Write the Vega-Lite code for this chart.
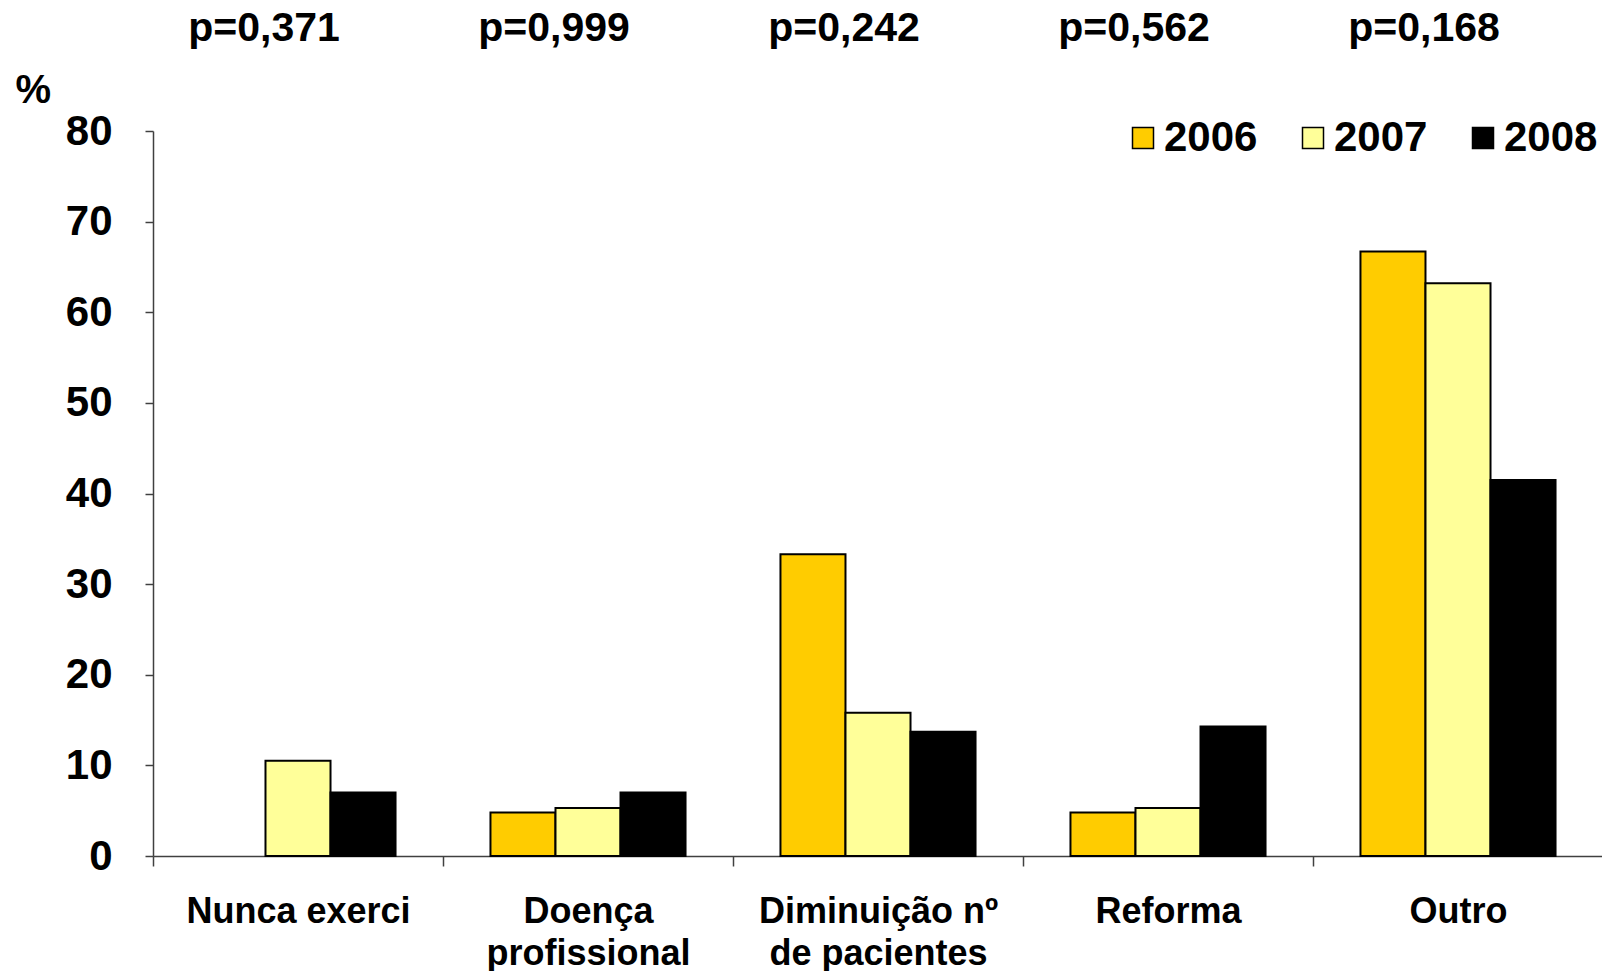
{
  "$schema": "https://vega.github.io/schema/vega-lite/v6.json",
  "autosize": "none",
  "width": 1450,
  "height": 725,
  "padding": {"left": 153, "top": 131, "right": 0, "bottom": 115},
  "background": "white",
  "config": {
    "view": {"stroke": null},
    "font": "Liberation Sans"
  },
  "datasets": {
    "bars": [
      {"motivo": "Nunca exerci", "ano": "2006", "pct": 0},
      {"motivo": "Nunca exerci", "ano": "2007", "pct": 10.5},
      {"motivo": "Nunca exerci", "ano": "2008", "pct": 7.0},
      {"motivo": "Doença profissional", "ano": "2006", "pct": 4.8},
      {"motivo": "Doença profissional", "ano": "2007", "pct": 5.3},
      {"motivo": "Doença profissional", "ano": "2008", "pct": 7.0},
      {"motivo": "Diminuição nº de pacientes", "ano": "2006", "pct": 33.3},
      {"motivo": "Diminuição nº de pacientes", "ano": "2007", "pct": 15.8},
      {"motivo": "Diminuição nº de pacientes", "ano": "2008", "pct": 13.7},
      {"motivo": "Reforma", "ano": "2006", "pct": 4.8},
      {"motivo": "Reforma", "ano": "2007", "pct": 5.3},
      {"motivo": "Reforma", "ano": "2008", "pct": 14.3},
      {"motivo": "Outro", "ano": "2006", "pct": 66.7},
      {"motivo": "Outro", "ano": "2007", "pct": 63.2},
      {"motivo": "Outro", "ano": "2008", "pct": 41.5}
    ],
    "pvals": [
      {"motivo": "Nunca exerci", "p": "p=0,371"},
      {"motivo": "Doença profissional", "p": "p=0,999"},
      {"motivo": "Diminuição nº de pacientes", "p": "p=0,242"},
      {"motivo": "Reforma", "p": "p=0,562"},
      {"motivo": "Outro", "p": "p=0,168"}
    ]
  },
  "layer": [
    {
      "data": {"name": "bars"},
      "mark": {"type": "bar", "stroke": "black", "strokeWidth": 2},
      "encoding": {
        "x": {
          "field": "motivo",
          "type": "nominal",
          "sort": ["Nunca exerci", "Doença profissional", "Diminuição nº de pacientes", "Reforma", "Outro"],
          "scale": {"paddingInner": 0, "paddingOuter": 0},
          "axis": {
            "title": null,
            "labelAngle": 0,
            "labelFontSize": 36,
            "labelFontWeight": "bold",
            "labelColor": "black",
            "labelLineHeight": 42,
            "labelBaseline": "top",
            "labelPadding": 28,
            "labelLimit": 0,
            "tickBand": "extent",
            "tickSize": 10,
            "tickColor": "#404040",
            "tickWidth": 1.5,
            "domainColor": "#404040",
            "domainWidth": 1.5,
            "labelExpr": "datum.value == 'Doença profissional' ? ['Doença', 'profissional'] : datum.value == 'Diminuição nº de pacientes' ? ['Diminuição nº', 'de pacientes'] : datum.value"
          }
        },
        "xOffset": {"field": "ano", "type": "nominal", "scale": {"paddingInner": 0, "paddingOuter": 0.73}},
        "y": {
          "field": "pct",
          "type": "quantitative",
          "scale": {"domain": [0, 80]},
          "axis": {
            "title": "%",
            "titleAngle": 0,
            "titleAlign": "left",
            "titleBaseline": "middle",
            "titleX": -138,
            "titleY": -41,
            "titleFontSize": 40,
            "titleFontWeight": "bold",
            "titleColor": "black",
            "values": [0, 10, 20, 30, 40, 50, 60, 70, 80],
            "grid": false,
            "labelFontSize": 42,
            "labelFontWeight": "bold",
            "labelColor": "black",
            "labelPadding": 33,
            "tickSize": 8,
            "tickColor": "#404040",
            "tickWidth": 1.5,
            "domainColor": "#404040",
            "domainWidth": 1.5
          }
        },
        "fill": {
          "field": "ano",
          "type": "nominal",
          "scale": {"domain": ["2006", "2007", "2008"], "range": ["#FFCC00", "#FFFF99", "#000000"]},
          "legend": {
            "title": null,
            "orient": "none",
            "direction": "horizontal",
            "legendX": 969,
            "legendY": -14,
            "symbolType": "square",
            "symbolSize": 441,
            "symbolStrokeColor": "black",
            "symbolStrokeWidth": 1.5,
            "symbolOpacity": 1,
            "labelFontSize": 42,
            "labelFontWeight": "bold",
            "labelColor": "black",
            "labelOffset": 0,
            "labelLimit": 0,
            "columnPadding": 34
          }
        },
        "strokeOpacity": {"condition": {"test": "datum.pct == 0", "value": 0}, "value": 1}
      }
    },
    {
      "data": {"name": "pvals"},
      "mark": {"type": "text", "fontSize": 41, "fontWeight": "bold", "color": "black", "baseline": "middle", "align": "center", "dy": -102, "dx": -34},
      "encoding": {
        "x": {"field": "motivo", "type": "nominal", "sort": ["Nunca exerci", "Doença profissional", "Diminuição nº de pacientes", "Reforma", "Outro"]},
        "y": {"datum": 80, "type": "quantitative"},
        "text": {"field": "p"}
      }
    }
  ]
}
